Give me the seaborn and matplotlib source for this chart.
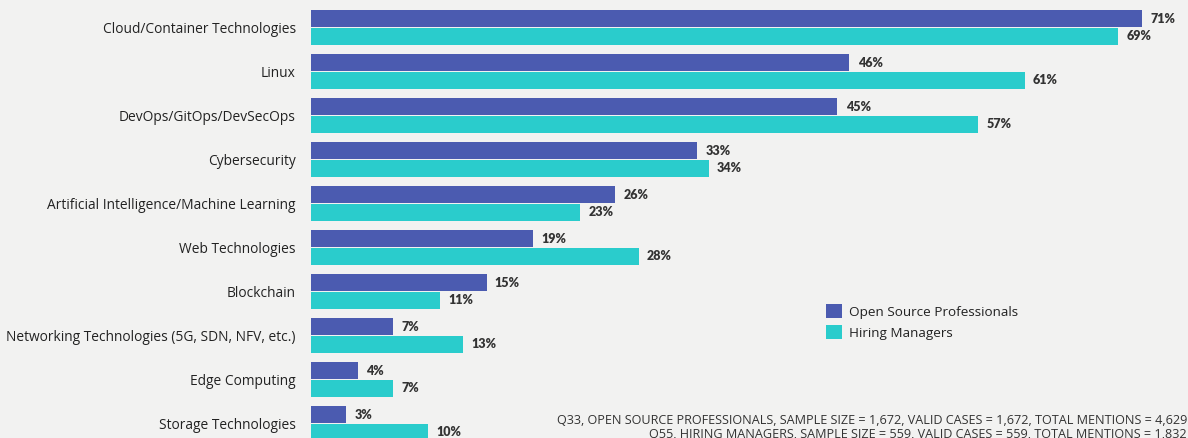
import pandas as pd
import matplotlib.pyplot as plt
import seaborn as sns

# Datos
categories = ["Cloud/Container Technologies", "Linux", "DevOps/GitOps/DevSecOps",
              "Cybersecurity", "Artificial Intelligence/Machine Learning",
              "Web Technologies", "Blockchain",
              "Networking Technologies (5G, SDN, NFV, etc.)",
              "Edge Computing", "Storage Technologies"]
oss_pros = [71, 46, 45, 33, 26, 19, 15, 7, 4, 3]
hiring_mgrs = [69, 61, 57, 34, 23, 28, 11, 13, 7, 10]
groups = ["Open Source Professionals", "Hiring Managers"]
footnote = ["Q33, OPEN SOURCE PROFESSIONALS, SAMPLE SIZE = 1,672, VALID CASES = 1,672, TOTAL MENTIONS = 4,629",
            "Q55, HIRING MANAGERS, SAMPLE SIZE = 559, VALID CASES = 559, TOTAL MENTIONS = 1,832"]

df = pd.DataFrame({
    "category": categories * 2,
    "value": oss_pros + hiring_mgrs,
    "group": [groups[0]] * len(categories) + [groups[1]] * len(categories),
})

bg = "#f2f2f1"
colors = {groups[0]: "#4b5bb0", groups[1]: "#2acccc"}

sns.set_style("white")
plt.rcParams['font.family'] = ['Open Sans', 'DejaVu Sans']

W, H = 1188, 438
fig = plt.figure(figsize=(W / 100, H / 100), dpi=100, facecolor=bg)
x0 = 311
ax = fig.add_axes([x0 / W, 0, 1 - x0 / W, 1])
ax.set_facecolor(bg)

sns.barplot(data=df, y="category", x="value", hue="group", orient="h",
            palette=colors, saturation=1, width=0.79, gap=0.03,
            linewidth=0, ax=ax, legend=True)

px_per_pct = 11.7
ax.set_xlim(0, (W - x0) / px_per_pct)
ax.set_ylim((H - 27.5) / 44, -27.5 / 44)

for c in ax.containers:
    ax.bar_label(c, fmt="%d%%", padding=6, fontsize=9, fontweight="heavy",
                 color="#333333", family=["Lato", "DejaVu Sans"])

ax.set_xlabel("")
ax.set_ylabel("")
ax.set_xticks([])
ax.tick_params(axis="y", length=0, pad=11, labelsize=9.9, labelcolor="#222222")
sns.despine(ax=ax, left=True, bottom=True, top=True, right=True)

ax.legend(title=None, frameon=False, loc="upper left",
          bbox_to_anchor=(814 / W, 1 - 292 / H), bbox_transform=fig.transFigure,
          fontsize=9.7, handlelength=1.2, handleheight=1.2, handletextpad=0.5,
          labelspacing=0.5, labelcolor="#222222")

fig.text(1187 / W, 1 - 420 / H, footnote[0], ha="right", va="center",
         fontsize=9.1, color="#333333")
fig.text(1187 / W, 1 - 435 / H, footnote[1], ha="right", va="center",
         fontsize=9.1, color="#333333")

fig.savefig("out.png", dpi=100, facecolor=bg)
